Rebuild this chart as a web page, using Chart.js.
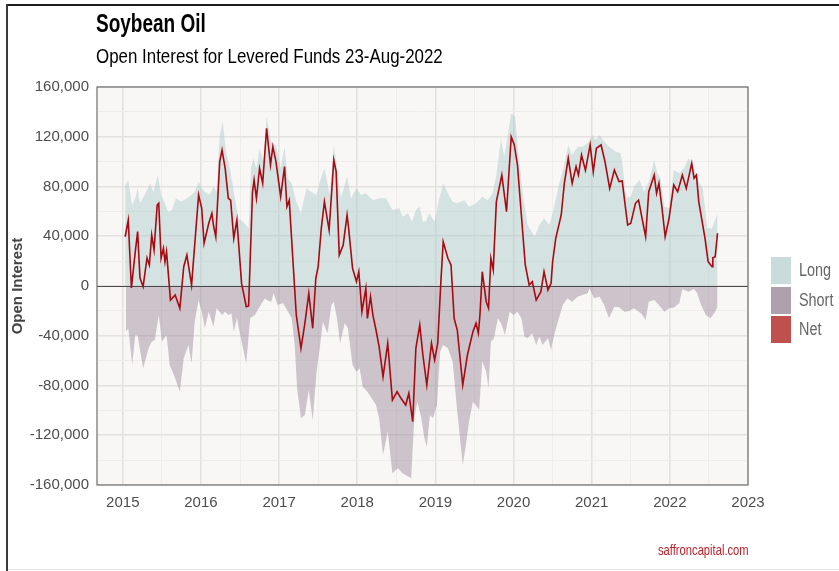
<!DOCTYPE html>
<html>
<head>
<meta charset="utf-8">
<script src="https://cdn.jsdelivr.net/npm/chart.js@4.4.1/dist/chart.umd.min.js"></script>
<style>
  html, body { margin:0; padding:0; background:#fff; }
  #wrap { position:relative; width:839px; height:571px; overflow:hidden; font-family:"Liberation Sans Narrow","Arial Narrow","Liberation Sans",sans-serif; }
  #chart { position:absolute; left:0; top:0; }
  .frameTop { position:absolute; left:6px; top:4px; width:833px; height:2px; background:#1e1e1e; }
  .frameLeft { position:absolute; left:6px; top:4px; width:2px; height:567px; background:#3a3a3a; }
  .frameBottom { position:absolute; left:8px; top:569px; width:831px; height:1px; background:#e2e2e2; }
  .narrow { transform-origin:0 0; white-space:nowrap; }
  #title { position:absolute; left:96px; top:11px; font-size:25px; line-height:1; font-weight:bold; color:#000; transform:scaleX(0.76); }
  #subtitle { position:absolute; left:96px; top:45px; font-size:21px; line-height:1; color:#000; transform:scaleX(0.805); }
  #source { position:absolute; left:658px; top:543px; font-size:14px; line-height:1; color:#b4262f; transform:scaleX(0.8); }
  .leg { position:absolute; left:771px; width:68px; height:27px; }
  .leg i { position:absolute; left:0; top:0; width:20px; height:27px; }
  .leg span { position:absolute; left:28px; top:4px; font-size:18px; line-height:1; color:#666; transform:scaleX(0.8); transform-origin:0 0; }
</style>
</head>
<body>
<div id="wrap">
  <canvas id="chart" width="839" height="571"></canvas>
  <div class="frameTop"></div><div class="frameLeft"></div><div class="frameBottom"></div>
  <div id="title" class="narrow">Soybean Oil</div>
  <div id="subtitle" class="narrow">Open Interest for Levered Funds 23-Aug-2022</div>
  <div class="leg" style="top:257px"><i style="background:#c9dbdb"></i><span>Long</span></div>
  <div class="leg" style="top:287px"><i style="background:#ada1ad"></i><span>Short</span></div>
  <div class="leg" style="top:316px"><i style="background:#c0504d"></i><span>Net</span></div>
  <div id="source" class="narrow">saffroncapital.com</div>
</div>
<script>
"use strict";

// x values are decimal years (weekly COT data)
const netYears = [2015.03,2015.07,2015.11,2015.16,2015.19,2015.22,2015.26,2015.31,2015.34,2015.37,2015.40,2015.44,2015.46,2015.49,2015.52,2015.54,2015.56,2015.61,2015.67,2015.73,2015.78,2015.82,2015.88,2015.97,2016.01,2016.04,2016.10,2016.14,2016.16,2016.19,2016.24,2016.27,2016.31,2016.35,2016.38,2016.42,2016.46,2016.52,2016.58,2016.61,2016.66,2016.68,2016.71,2016.75,2016.79,2016.84,2016.89,2016.92,2016.96,2017.02,2017.07,2017.10,2017.13,2017.17,2017.22,2017.28,2017.33,2017.38,2017.43,2017.47,2017.50,2017.54,2017.58,2017.64,2017.70,2017.73,2017.77,2017.82,2017.87,2017.89,2017.94,2017.99,2018.02,2018.06,2018.11,2018.13,2018.17,2018.20,2018.24,2018.28,2018.33,2018.39,2018.45,2018.51,2018.56,2018.62,2018.66,2018.71,2018.75,2018.80,2018.84,2018.89,2018.95,2018.99,2019.03,2019.07,2019.10,2019.16,2019.20,2019.24,2019.28,2019.35,2019.41,2019.48,2019.52,2019.55,2019.57,2019.60,2019.65,2019.68,2019.71,2019.74,2019.78,2019.85,2019.91,2019.97,2020.01,2020.05,2020.10,2020.15,2020.20,2020.24,2020.29,2020.35,2020.39,2020.44,2020.48,2020.50,2020.54,2020.61,2020.65,2020.70,2020.75,2020.80,2020.83,2020.87,2020.92,2020.98,2021.02,2021.06,2021.12,2021.17,2021.23,2021.29,2021.35,2021.39,2021.46,2021.50,2021.56,2021.60,2021.64,2021.69,2021.73,2021.80,2021.83,2021.86,2021.90,2021.94,2021.99,2022.05,2022.10,2022.16,2022.21,2022.28,2022.31,2022.34,2022.37,2022.45,2022.49,2022.54,2022.55,2022.58,2022.61];
const netValues = [39600,53000,-1600,27600,43700,6400,-500,22500,16900,41000,29000,65000,66500,22300,30300,19500,27600,-11300,-7200,-17900,15500,24900,800,73200,62500,34300,50400,58400,49000,39600,100000,109300,94600,70500,69000,38300,53000,2100,-16600,-16000,75800,85200,70500,94600,82600,126800,97300,112000,100000,71800,96000,63800,69000,27600,-23300,-50100,-30000,-5900,-34000,6200,15500,46400,67800,45000,101300,91900,24900,33000,57100,46400,14200,3500,11500,-20700,-1900,-26000,-8600,-23300,-35400,-48800,-72900,-46100,-91700,-85000,-90300,-95700,-86300,-109100,-50100,-31400,-55500,-79600,-46100,-59500,-46100,3500,35600,22300,16900,-26000,-35400,-79600,-55500,-36700,-30000,-38000,-23300,11500,-12600,-17900,22300,12900,67800,89200,59700,120000,113400,97300,57100,16900,800,3500,-11300,-4600,11500,-3200,2100,19500,38300,57100,82600,102700,82600,96000,89200,105300,93000,113400,91900,110700,113400,100000,78500,93300,83900,84500,49000,50400,66500,69000,55700,39600,75800,89200,74500,82600,62500,39600,54400,81200,75800,89200,78500,98600,86600,89200,67800,38300,19500,15500,22700,23500,42400];

const longYears = [2015.03,2015.07,2015.12,2015.16,2015.19,2015.22,2015.28,2015.35,2015.39,2015.45,2015.49,2015.54,2015.58,2015.63,2015.68,2015.75,2015.82,2015.88,2015.92,2015.97,2016.01,2016.05,2016.11,2016.16,2016.20,2016.24,2016.28,2016.32,2016.37,2016.42,2016.48,2016.54,2016.61,2016.64,2016.67,2016.71,2016.75,2016.80,2016.84,2016.90,2016.96,2017.02,2017.07,2017.11,2017.16,2017.22,2017.28,2017.35,2017.41,2017.48,2017.52,2017.58,2017.65,2017.70,2017.74,2017.79,2017.87,2017.92,2017.99,2018.05,2018.11,2018.20,2018.28,2018.37,2018.45,2018.54,2018.58,2018.65,2018.70,2018.75,2018.80,2018.84,2018.88,2018.92,2018.99,2019.05,2019.10,2019.16,2019.22,2019.28,2019.37,2019.43,2019.52,2019.60,2019.67,2019.73,2019.78,2019.84,2019.88,2019.92,2019.97,2020.02,2020.06,2020.12,2020.18,2020.27,2020.33,2020.39,2020.46,2020.52,2020.58,2020.65,2020.70,2020.75,2020.82,2020.88,2020.95,2021.01,2021.05,2021.10,2021.16,2021.22,2021.31,2021.37,2021.39,2021.44,2021.50,2021.54,2021.61,2021.67,2021.73,2021.80,2021.84,2021.88,2021.93,2021.99,2022.05,2022.12,2022.18,2022.24,2022.31,2022.37,2022.42,2022.48,2022.54,2022.61];
const longValues = [81200,85200,65000,70500,78500,66500,73200,82600,75800,89200,73200,66500,59700,61100,70500,67800,70500,73200,75800,83900,78500,75800,73200,79800,75800,121400,132100,108000,94600,75800,54400,51700,46400,94600,102700,94600,110700,100000,136100,116000,113400,94600,112000,86600,82600,67800,58400,78500,75800,73200,83900,94600,73200,113400,94600,70500,87900,70500,78500,73200,74500,69000,70500,70500,61100,62500,55700,58400,51700,61100,63800,51700,52000,58400,51700,70500,82600,74500,67800,66500,69000,63800,66500,71800,69000,74500,89200,118700,104000,118700,138800,136100,108000,73200,49000,39600,49000,54400,49000,63800,81200,97300,113400,105300,112000,112000,114700,121400,117400,121400,116000,112000,108000,106700,100000,70500,71800,79800,85200,75800,83900,101300,90600,86600,63800,62500,93300,90600,94600,102700,94600,83900,78500,46400,46400,58400];

const shortYears = [2015.04,2015.07,2015.12,2015.16,2015.19,2015.26,2015.33,2015.37,2015.41,2015.46,2015.50,2015.56,2015.60,2015.67,2015.73,2015.78,2015.84,2015.88,2015.92,2015.97,2016.01,2016.05,2016.10,2016.16,2016.20,2016.27,2016.31,2016.35,2016.39,2016.42,2016.46,2016.52,2016.58,2016.63,2016.69,2016.75,2016.82,2016.84,2016.90,2016.93,2016.98,2017.05,2017.09,2017.16,2017.20,2017.23,2017.28,2017.33,2017.38,2017.43,2017.48,2017.52,2017.56,2017.62,2017.67,2017.70,2017.74,2017.78,2017.84,2017.88,2017.94,2017.99,2018.03,2018.07,2018.13,2018.24,2018.28,2018.33,2018.39,2018.45,2018.52,2018.58,2018.69,2018.73,2018.77,2018.82,2018.86,2018.89,2018.93,2018.97,2019.02,2019.06,2019.10,2019.16,2019.22,2019.28,2019.35,2019.39,2019.43,2019.48,2019.52,2019.56,2019.60,2019.65,2019.68,2019.71,2019.75,2019.80,2019.84,2019.89,2019.95,2020.00,2020.05,2020.10,2020.14,2020.18,2020.24,2020.29,2020.33,2020.37,2020.44,2020.48,2020.52,2020.58,2020.63,2020.69,2020.75,2020.82,2020.88,2020.95,2020.97,2021.03,2021.10,2021.16,2021.22,2021.29,2021.35,2021.42,2021.48,2021.54,2021.63,2021.69,2021.73,2021.80,2021.86,2021.93,2021.99,2022.05,2022.12,2022.16,2022.24,2022.31,2022.35,2022.40,2022.46,2022.52,2022.58,2022.61];
const shortValues = [-36700,-34000,-63500,-39400,-40000,-66200,-50100,-44800,-43400,-23300,-44800,-39400,-63500,-74200,-85000,-58100,-47400,-62100,-28700,-11300,-20700,-34000,-20700,-32700,-17900,-23300,-20700,-23300,-22000,-36700,-26000,-44800,-62100,-26000,-23300,-16600,-9900,-11300,-12600,-5900,-15300,-13900,-17900,-26000,-47400,-82200,-106300,-103700,-83600,-107700,-68900,-50100,-28700,-38000,-15300,-12600,-26000,-46100,-30000,-34000,-63500,-68900,-66200,-81000,-85000,-95700,-106300,-135900,-117100,-150600,-146600,-150600,-154600,-106300,-93000,-106300,-122400,-129200,-103700,-106300,-95700,-52800,-47400,-50100,-60800,-101200,-143900,-127800,-109100,-93000,-96000,-99700,-60800,-68900,-82200,-44800,-42000,-26000,-30000,-39400,-20700,-23300,-20700,-26000,-40700,-42000,-38000,-47400,-40700,-47400,-42000,-51500,-39400,-26000,-15300,-9900,-12600,-8600,-7200,-5900,-1900,-9900,-8600,-15300,-26000,-16600,-17000,-20700,-20000,-17900,-22000,-27300,-12600,-11300,-15300,-20700,-17900,-17500,-13900,-2700,-4600,-2400,-5900,-15300,-23300,-26000,-20700,-16600];

// gridlines: half years on x, 20k on y; labels only on the major ones
const xTicks = [2015,2015.5,2016,2016.5,2017,2017.5,2018,2018.5,2019,2019.5,2020,2020.5,2021,2021.5,2022,2022.5,2023];
const xLabelled = [2015,2016,2017,2018,2019,2020,2021,2022,2023];
const yTicks = [-160000,-140000,-120000,-100000,-80000,-60000,-40000,-20000,0,20000,40000,60000,80000,100000,120000,140000,160000];
const yLabelled = [-160000,-120000,-80000,-40000,0,40000,80000,120000,160000];

const toPts = (xs, ys) => xs.map((x, i) => ({ x: x, y: ys[i] }));
const FONT = '"Liberation Sans Narrow","Arial Narrow","Liberation Sans",sans-serif';

const plotDecor = {
  id: "plotDecor",
  beforeDraw(chart) {
    const a = chart.chartArea, ctx = chart.ctx;
    ctx.save();
    ctx.fillStyle = "#f8f7f5";
    ctx.fillRect(a.left, a.top, a.right - a.left, a.bottom - a.top);
    ctx.restore();
  },
  beforeDatasetDraw(chart, args) {
    if (args.index !== 2) return;
    const a = chart.chartArea, ctx = chart.ctx;
    const y0 = Math.round(chart.scales.y.getPixelForValue(0)) + 0.5;
    ctx.save();
    ctx.strokeStyle = "#4a4a4a";
    ctx.lineWidth = 1;
    ctx.beginPath(); ctx.moveTo(a.left, y0); ctx.lineTo(a.right, y0); ctx.stroke();
    ctx.restore();
  },
  afterDraw(chart) {
    const a = chart.chartArea, ctx = chart.ctx;
    ctx.save();
    ctx.strokeStyle = "#707070";
    ctx.lineWidth = 1.2;
    ctx.strokeRect(a.left, a.top, a.right - a.left, a.bottom - a.top);
    ctx.restore();
  }
};

new Chart(document.getElementById("chart"), {
  type: "line",
  data: {
    datasets: [
      { label: "Long", data: toPts(longYears, longValues), fill: "origin", backgroundColor: "rgba(160,194,197,0.4)",
        borderWidth: 0, borderColor: "rgba(0,0,0,0)", pointRadius: 0, tension: 0, order: 2 },
      { label: "Short", data: toPts(shortYears, shortValues), fill: "origin", backgroundColor: "rgba(140,120,140,0.4)",
        borderWidth: 0, borderColor: "rgba(0,0,0,0)", pointRadius: 0, tension: 0, order: 1 },
      { label: "Net", data: toPts(netYears, netValues), fill: false, borderColor: "#a50b12",
        borderWidth: 1.6, pointRadius: 0, tension: 0, order: 0 }
    ]
  },
  options: {
    responsive: false,
    animation: false,
    layout: { padding: { top: 87, right: 91, left: 0, bottom: 0 } },
    plugins: { legend: { display: false }, tooltip: { enabled: false } },
    scales: {
      x: {
        type: "linear", min: 2014.67, max: 2023,
        afterBuildTicks: s => { s.ticks = xTicks.map(v => ({ value: v })); },
        afterFit: s => { s.height = 86; },
        grid: {
          drawTicks: false,
          color: c => xLabelled.includes(c.tick.value) ? "#e4e2e1" : "#efedec",
          lineWidth: c => xLabelled.includes(c.tick.value) ? 1.6 : 1
        },
        border: { display: false },
        ticks: {
          autoSkip: false, maxRotation: 0, padding: 9, color: "#4d4d4d",
          font: { family: FONT, size: 15 },
          callback: v => xLabelled.includes(v) ? String(v) : ""
        }
      },
      y: {
        min: -160000, max: 160000,
        afterBuildTicks: s => { s.ticks = yTicks.map(v => ({ value: v })); },
        afterFit: s => { s.width = 97; },
        grid: {
          drawTicks: false,
          color: c => yLabelled.includes(c.tick.value) ? "#e4e2e1" : "#efedec",
          lineWidth: c => yLabelled.includes(c.tick.value) ? 1.6 : 1
        },
        border: { display: false },
        title: {
          display: true, text: "Open Interest", color: "#444",
          font: { family: '"Liberation Sans",Arial,sans-serif', size: 15, weight: "bold" },
          padding: { top: 9, bottom: 0 }
        },
        ticks: {
          autoSkip: false, padding: 8, color: "#4d4d4d",
          font: { family: FONT, size: 15 },
          callback: v => yLabelled.includes(v) ? v.toLocaleString("en-US") : ""
        }
      }
    }
  },
  plugins: [plotDecor]
});
</script>
</body>
</html>
